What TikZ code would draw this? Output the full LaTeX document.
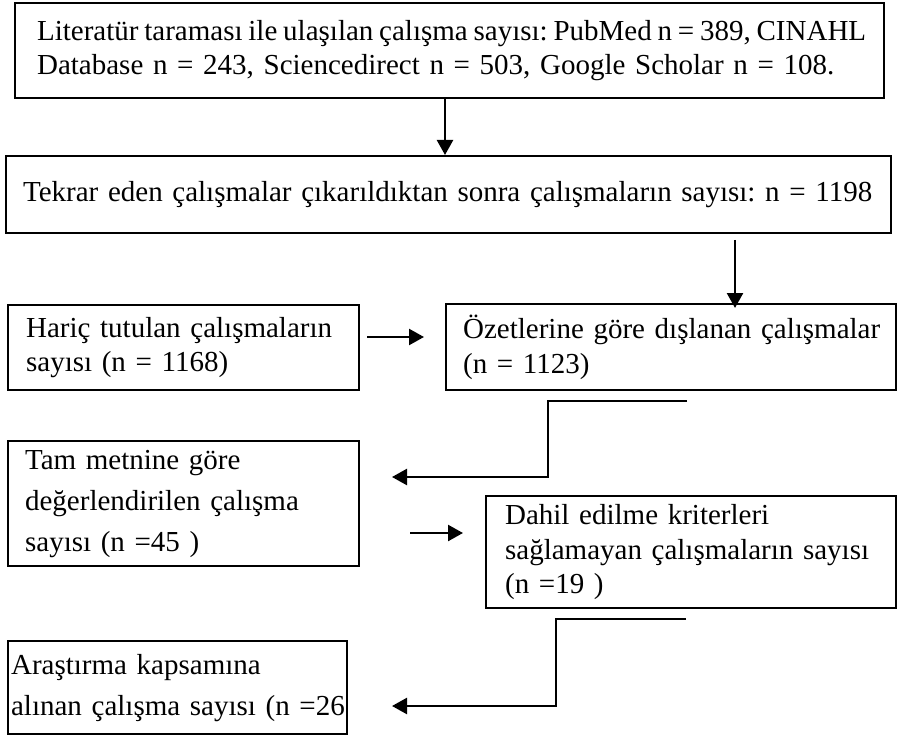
\documentclass[tikz,border=0pt]{standalone}
\usepackage{fontspec}
\setmainfont{Liberation Serif}
\frenchspacing
\usetikzlibrary{arrows.meta,positioning}
\tikzstyle{kutu} = [draw=black,line width=2.2pt,anchor=north west,align=left,inner ysep=0pt,font=\fontsize{29}{34.5}\selectfont]
\tikzstyle{genis} = [font=\fontsize{29}{41}\selectfont]
\tikzstyle{flow} = [line width=2.4pt,-{Triangle[length=15pt,width=16pt]},draw=black]

\begin{document}
\begin{tikzpicture}[x=1pt,y=-1pt]
    \useasboundingbox (0,0) rectangle (904,735);

    \node[kutu,inner xsep=22pt,text width=825pt,minimum height=95pt] (A) at (14,2)
        {\mbox{\spaceskip=5.8pt Literatür taraması ile ulaşılan çalışma sayısı: PubMed n = 389, CINAHL}\\\mbox{Database n = 243, Sciencedirect n = 503, Google Scholar n = 108.}};
    \node[kutu,inner xsep=17pt,text width=851pt,minimum height=77pt] (B) at (5,155)
        {\mbox{Tekrar eden çalışmalar çıkarıldıktan sonra çalışmaların sayısı: n = 1198}};
    \node[kutu,inner xsep=18pt,text width=315pt,minimum height=85pt] (C) at (7,304)
        {\mbox{Hariç tutulan çalışmaların}\\sayısı (n = 1168)};
    \node[kutu,inner xsep=17pt,text width=416pt,minimum height=86pt] (D) at (445,303)
        {\mbox{Özetlerine göre dışlanan çalışmalar}\\(n = 1123)};
    \node[kutu,genis,inner xsep=17pt,text width=317pt,minimum height=125pt] (E) at (7,440)
        {Tam metnine göre\\\mbox{değerlendirilen çalışma}\\sayısı (n =45 )};
    \node[kutu,inner xsep=19pt,text width=372pt,minimum height=112pt] (F) at (485,495)
        {Dahil edilme kriterleri\\\mbox{sağlamayan çalışmaların sayısı}\\(n =19 )};
    \node[kutu,genis,inner xsep=3pt,text width=333pt,minimum height=93pt] (G) at (7,640)
        {Araştırma kapsamına\\\mbox{alınan çalışma sayısı (n =26}};

    % free ends of the connectors
    \coordinate (b1) at (735,240);
    \coordinate (c1) at (367,337);
    \coordinate (c2) at (424,337);
    \coordinate (d1) at (687,401);
    \coordinate (d2) at (392,477);
    \coordinate (e1) at (410,533);
    \coordinate (e2) at (463,533);
    \coordinate (f1) at (686,619);
    \coordinate (f2) at (392,706);

    \draw[flow] (A.south -| 445,0) -- (B.north -| 445,0);
    \draw[flow] (b1) -- ([yshift=-5pt]D.north -| b1);
    \draw[flow] (c1) -- (c2);
    \draw[flow] (d1) -- (548,401) -- (548,477) -- (d2);
    \draw[flow] (e1) -- (e2);
    \draw[flow] (f1) -- (556,619) -- (556,706) -- (f2);
\end{tikzpicture}
\end{document}
